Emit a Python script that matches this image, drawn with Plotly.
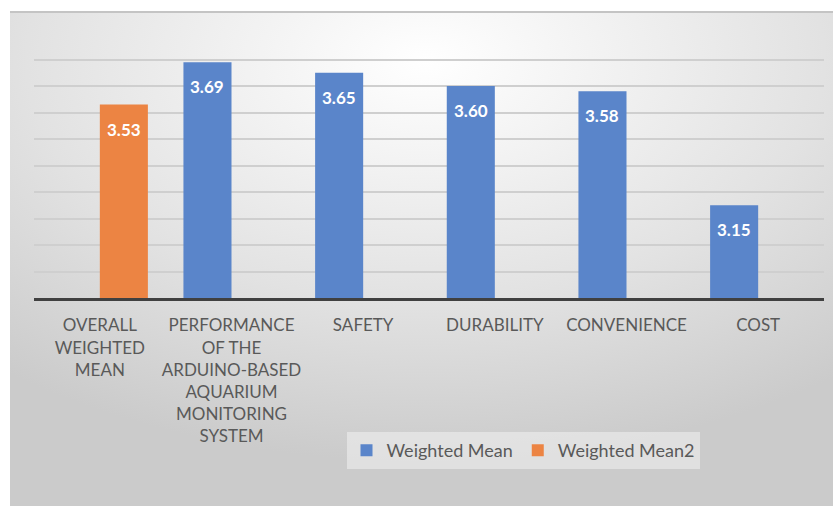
import plotly.graph_objects as go
import urllib.parse

categories = ["OVERALL WEIGHTED MEAN", "PERFORMANCE", "SAFETY", "DURABILITY", "CONVENIENCE", "COST"]
tick_labels = [
    "OVERALL<br>WEIGHTED<br>MEAN",
    "PERFORMANCE<br>OF THE<br>ARDUINO-BASED<br>AQUARIUM<br>MONITORING<br>SYSTEM",
    "SAFETY",
    "DURABILITY",
    "CONVENIENCE",
    "COST",
]
weighted_mean = [None, 3.69, 3.65, 3.60, 3.58, 3.15]
weighted_mean2 = [3.53, None, None, None, None, None]

BLUE = "#5A85CA"
ORANGE = "#EC8443"
FONT = "Lato"
BARGAP = 0.27

W, H = 833, 506
L, R, T, B = 34, 9, 33, 208
pw, ph = W - L - R, H - T - B

fig = go.Figure()
fig.add_trace(go.Bar(name="Weighted Mean", x=categories, y=weighted_mean,
                     marker=dict(color=BLUE, line=dict(width=0))))
fig.add_trace(go.Bar(name="Weighted Mean2", x=categories, y=weighted_mean2,
                     marker=dict(color=ORANGE, line=dict(width=0))))

# data labels inside bars near top
off = (1 - BARGAP) / 4
annotations = []
for series, sign in ((weighted_mean, -1), (weighted_mean2, 1)):
    for i, v in enumerate(series):
        if v is None:
            continue
        annotations.append(dict(
            x=i + sign * off, y=v, xref="x", yref="y", text=f"<b>{v:.2f}</b>",
            showarrow=False, yanchor="top", yshift=-12,
            font=dict(family=FONT, size=17, color="white")))

# gradient background via svg
svg = (
    "<svg xmlns='http://www.w3.org/2000/svg' width='830' height='500' preserveAspectRatio='none'>"
    "<defs><radialGradient id='g' cx='0.5' cy='0.1' r='0.8' gradientUnits='objectBoundingBox'>"
    "<stop offset='0' stop-color='#ffffff'/>"
    "<stop offset='0.6' stop-color='#e2e2e2'/>"
    "<stop offset='1' stop-color='#cbcbcb'/>"
    "</radialGradient></defs>"
    "<rect x='0' y='0' width='830' height='500' fill='url(#g)'/>"
    "<rect x='0' y='0' width='830' height='2' fill='#c4c4c4'/>"
    "</svg>"
)
src = "data:image/svg+xml;charset=utf-8," + urllib.parse.quote(svg)

x0 = (10 - L) / pw
x1 = (W + 8 - L) / pw
y0 = (H - B - 11) / ph
y1 = (H - B - H - 6) / ph

fig.update_layout(
    width=W, height=H,
    margin=dict(l=L, r=R, t=T, b=B, pad=0),
    paper_bgcolor="white",
    plot_bgcolor="rgba(0,0,0,0)",
    barmode="group",
    bargap=BARGAP,
    bargroupgap=0,
    showlegend=True,
    legend=dict(orientation="h", x=(523 - L) / pw, xanchor="center",
                y=(H - B - 432) / ph, yanchor="top",
                bgcolor="rgba(242,242,242,0.55)",
                font=dict(family=FONT, size=18, color="#595959"),
                itemwidth=30, tracegroupgap=0),
    annotations=annotations,
    images=[dict(source=src, xref="paper", yref="paper", x=x0, y=y0,
                 sizex=x1 - x0, sizey=y0 - y1, xanchor="left", yanchor="top",
                 sizing="stretch", layer="below")],
    font=dict(family=FONT, color="#595959"),
)
fig.update_xaxes(
    tickmode="array", tickvals=categories, ticktext=tick_labels,
    tickfont=dict(family=FONT, size=17, color="#595959"),
    showline=True, linecolor="#404040", linewidth=3,
    showgrid=False, ticks="", ticklabelstandoff=10,
)
fig.update_yaxes(
    range=[2.8, 3.8], dtick=0.1, showticklabels=False,
    showgrid=True, gridcolor="#cfcfcf", gridwidth=2,
    zeroline=False, showline=False, ticks="",
)

fig.write_html("out.html")
